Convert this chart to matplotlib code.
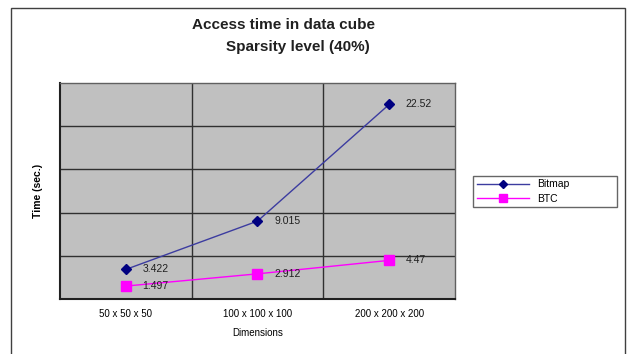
import matplotlib.pyplot as plt
from matplotlib.patches import Rectangle

plt.rcParams['font.family'] = ['Liberation Sans', 'DejaVu Sans']

# access times (sec.) per cube size
dimensions = ["50 x 50 x 50", "100 x 100 x 100", "200 x 200 x 200"]
bitmap = [3.422, 9.015, 22.52]
btc = [1.497, 2.912, 4.47]
bitmap_labels = ["3.422", "9.015", "22.52"]
btc_labels = ["1.497", "2.912", "4.47"]

fig = plt.figure(figsize=(6.31, 3.54), dpi=100)
fig.patch.set_facecolor('white')

# chart area frame
fig.patches.append(Rectangle((11 / 631, -0.01), 614 / 631, 1 - 8 / 354 + 0.01,
                             transform=fig.transFigure, fill=False,
                             edgecolor='#404040', linewidth=1.0))

ax = fig.add_axes([60 / 631, 55 / 354, 395 / 631, 216 / 354])
ax.set_facecolor('#c0c0c0')

x = range(len(dimensions))
ax.plot(x, bitmap, color='#3c3ca0', linewidth=1.0, marker='D', markersize=5,
        markerfacecolor='#000080', markeredgecolor='#000080', label='Bitmap')
ax.plot(x, btc, color='#ff00ff', linewidth=1.0, marker='s', markersize=7,
        markerfacecolor='#ff00ff', markeredgecolor='#ff00ff', label='BTC')

for xi, v, t in zip(x, bitmap, bitmap_labels):
    ax.annotate(t, (xi, v), xytext=(12, 0), textcoords='offset points',
                fontsize=7.5, va='center', ha='left', color='#202020')
for xi, v, t in zip(x, btc, btc_labels):
    ax.annotate(t, (xi, v), xytext=(12, 0), textcoords='offset points',
                fontsize=7.5, va='center', ha='left', color='#202020')

ax.set_xlim(-0.5, 2.5)
ax.set_ylim(0, 25)
ax.set_yticks([5, 10, 15, 20])
ax.set_yticklabels([])
ax.set_xticks(list(x))
ax.set_xticklabels(dimensions, fontsize=7)
ax.tick_params(axis='both', length=0, pad=7)
ax.set_xticks([0.5, 1.5], minor=True)
ax.tick_params(axis='x', which='minor', length=0)
ax.grid(True, axis='y', which='major', color='#303030', linewidth=1.0)
ax.grid(True, axis='x', which='minor', color='#303030', linewidth=1.0)
ax.set_axisbelow(True)
for side in ['top', 'right']:
    ax.spines[side].set_color('#606060')
    ax.spines[side].set_linewidth(1.0)
for side in ['left', 'bottom']:
    ax.spines[side].set_color('#202020')
    ax.spines[side].set_linewidth(1.5)

ax.set_xlabel("Dimensions", fontsize=7, labelpad=7)
ax.set_ylabel("Time (sec.)", fontsize=7.5, fontweight='bold')
ax.yaxis.set_label_coords(-17 / 395, 0.5)

fig.text(283 / 631, 1 - 25 / 354, "Access time in data cube", ha='center',
         va='center', fontsize=11, fontweight='bold', color='#202020')
fig.text(298 / 631, 1 - 47 / 354, "Sparsity level (40%)", ha='center',
         va='center', fontsize=11, fontweight='bold', color='#202020')

leg = ax.legend(loc='center left', mode='expand',
                bbox_to_anchor=(473 / 631, 1 - 208 / 354, 144 / 631, 33 / 354),
                bbox_transform=fig.transFigure, fontsize=7.5, frameon=True,
                fancybox=False, edgecolor='#404040', handlelength=5,
                borderpad=0.35, labelspacing=0.45, markerscale=0.75,
                borderaxespad=0)
leg.get_frame().set_linewidth(1.0)

fig.savefig('out.png', dpi=100, facecolor='white')
